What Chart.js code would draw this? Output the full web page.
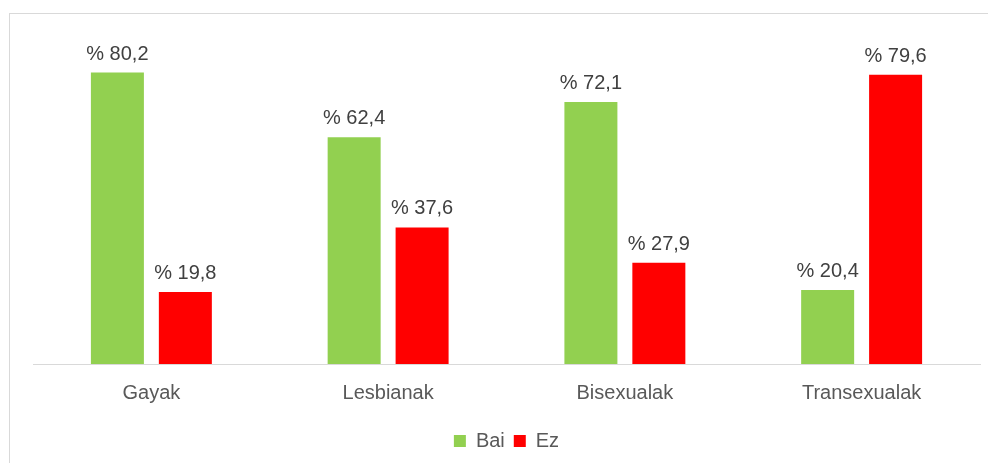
<!DOCTYPE html>
<html>
<head>
<meta charset="utf-8">
<script src="https://cdn.jsdelivr.net/npm/chart.js@4/dist/chart.umd.min.js"></script>
<style>
  html, body { margin: 0; padding: 0; background: #fff; }
  body { width: 988px; height: 463px; position: relative; overflow: hidden; }
  .frame { position: absolute; left: 9px; top: 13px; width: 1000px; height: 480px; border: 1px solid #d9d9d9; }
  #wrap { position: absolute; left: 0; top: 0; width: 988px; height: 463px; }
</style>
</head>
<body>
<div class="frame"></div>
<div id="wrap"><canvas id="chart"></canvas></div>
<script>
const categories = ['Gayak', 'Lesbianak', 'Bisexualak', 'Transexualak'];
const baiValues = [80.2, 62.4, 72.1, 20.4];
const ezValues = [19.8, 37.6, 27.9, 79.6];

const FONT = "'Liberation Sans', Arial, sans-serif";
const FONT_SIZE = 20;

// writes "% 80,2" style labels above each bar
const valueLabels = {
    id: 'valueLabels',
    afterDatasetsDraw(chart) {
        const ctx = chart.ctx;
        ctx.save();
        ctx.font = FONT_SIZE + 'px ' + FONT;
        ctx.fillStyle = '#404040';
        ctx.textAlign = 'center';
        ctx.textBaseline = 'alphabetic';
        chart.data.datasets.forEach((ds, i) => {
            chart.getDatasetMeta(i).data.forEach((bar, j) => {
                const txt = '% ' + ds.data[j].toFixed(1).replace('.', ',');
                ctx.fillText(txt, bar.x, bar.y - 13);
            });
        });
        ctx.restore();
    }
};

const ctx = document.getElementById('chart').getContext('2d');
new Chart(ctx, {
    type: 'bar',
    data: {
        labels: categories,
        datasets: [
            { label: 'Bai', data: baiValues, backgroundColor: '#92d050' },
            { label: 'Ez', data: ezValues, backgroundColor: '#ff0000' }
        ]
    },
    options: {
        responsive: true,
        maintainAspectRatio: false,
        animation: false,
        categoryPercentage: 0.574,
        barPercentage: 0.78,
        layout: { padding: { left: 33, right: 8, top: 37, bottom: 2 } },
        plugins: {
            tooltip: { enabled: false },
            legend: {
                position: 'bottom',
                labels: {
                    boxWidth: 12,
                    boxHeight: 12,
                    padding: 9,
                    color: '#595959',
                    font: { family: FONT, size: FONT_SIZE }
                }
            }
        },
        scales: {
            x: {
                grid: { display: false, drawTicks: false },
                border: { color: '#d9d9d9', width: 1 },
                ticks: { color: '#595959', padding: 17, font: { family: FONT, size: FONT_SIZE } }
            },
            y: { display: false, min: 0, max: 90 }
        }
    },
    plugins: [valueLabels]
});
</script>
</body>
</html>
